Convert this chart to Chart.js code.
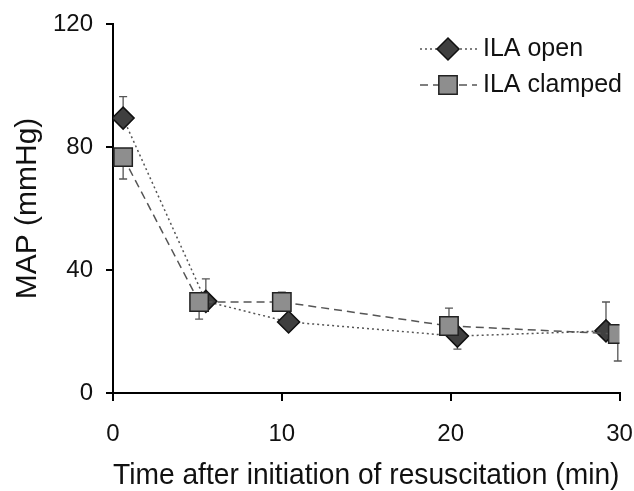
<!DOCTYPE html>
<html>
<head>
<meta charset="utf-8">
<script src="https://cdn.jsdelivr.net/npm/chart.js@4"></script>
<style>
html,body{margin:0;padding:0;background:#fff;}
#wrap{width:634px;height:491px;position:relative;}
</style>
</head>
<body>
<div id="wrap"><canvas id="c" width="634" height="491"></canvas></div>
<script>
// ---- data ----
const seriesNames = ["ILA open", "ILA clamped"];
const openX = [0.6, 5.5, 10.4, 20.4, 29.2];
const openY = [89.4, 29.8, 23.1, 18.5, 20.2];
const openErrUp = [7.0, 7.3, 0, 0, 9.4];
const openErrDown = [0, 0, 0, 4.2, 0];
const clampedX = [0.6, 5.1, 10.0, 19.9, 29.9];
const clampedY = [76.7, 29.6, 29.6, 21.8, 19.2];
const clampedErrUp = [0, 0, 3.2, 5.8, 0];
const clampedErrDown = [7.1, 5.6, 0, 0, 8.8];
const xTicks = [0, 10, 20, 30];
const yTicks = [0, 40, 80, 120];
const xTitle = "Time after initiation of resuscitation (min)";
const yTitle = "MAP (mmHg)";

const FONT = "'Liberation Sans', Arial, Helvetica, sans-serif";
const toPts = (xs, ys) => xs.map((x, i) => ({x: x, y: ys[i]}));

const errorBars = {
  id: 'errorBars',
  beforeDatasetsDraw(chart) {
    const ctx = chart.ctx;
    const xs = chart.scales.x, ys = chart.scales.y;
    const sets = [[openX, openY, openErrUp, openErrDown], [clampedX, clampedY, clampedErrUp, clampedErrDown]];
    ctx.save();
    ctx.strokeStyle = '#555';
    ctx.lineWidth = 1.3;
    sets.forEach(([X, Y, U, D]) => {
      X.forEach((x, i) => {
        const px = xs.getPixelForValue(x);
        const py = ys.getPixelForValue(Y[i]);
        [[U[i], 1], [D[i], -1]].forEach(([e, s]) => {
          if (!e) return;
          const pe = ys.getPixelForValue(Y[i] + s * e);
          ctx.beginPath();
          ctx.moveTo(px, py); ctx.lineTo(px, pe);
          ctx.moveTo(px - 4, pe); ctx.lineTo(px + 4, pe);
          ctx.stroke();
        });
      });
    });
    ctx.restore();
  }
};

const customLegend = {
  id: 'customLegend',
  afterDraw(chart) {
    const ctx = chart.ctx;
    const ds = chart.data.datasets;
    const rows = [{i: 0, y: 49}, {i: 1, y: 85}];
    ctx.save();
    rows.forEach(r => {
      const d = ds[r.i];
      ctx.strokeStyle = d.borderColor;
      ctx.lineWidth = d.borderWidth;
      ctx.setLineDash(d.borderDash);
      ctx.beginPath();
      ctx.moveTo(420, r.y); ctx.lineTo(477, r.y);
      ctx.stroke();
      ctx.setLineDash([]);
      ctx.fillStyle = d.pointBackgroundColor;
      ctx.strokeStyle = d.pointBorderColor;
      ctx.lineWidth = d.pointBorderWidth;
      ctx.beginPath();
      if (d.pointStyle === 'rectRot') {
        const rr = d.pointRadius;
        ctx.moveTo(448 - rr, r.y); ctx.lineTo(448, r.y - rr); ctx.lineTo(448 + rr, r.y); ctx.lineTo(448, r.y + rr);
      } else {
        const s = d.pointRadius * Math.SQRT1_2;
        ctx.rect(448 - s, r.y - s, 2 * s, 2 * s);
      }
      ctx.closePath(); ctx.fill(); ctx.stroke();
      ctx.fillStyle = '#111';
      ctx.font = '25px ' + FONT;
      ctx.textBaseline = 'middle';
      ctx.textAlign = 'left';
      ctx.fillText(seriesNames[r.i], 483, r.y);
    });
    ctx.restore();
  }
};

new Chart(document.getElementById('c'), {
  type: 'scatter',
  data: {
    datasets: [
      {
        label: seriesNames[0],
        data: toPts(openX, openY),
        showLine: true,
        borderColor: '#555',
        borderWidth: 1.5,
        borderDash: [2, 3],
        pointStyle: 'rectRot',
        pointRadius: 11,
        pointHoverRadius: 11,
        pointBackgroundColor: '#3f3f3f',
        pointBorderColor: '#111',
        pointBorderWidth: 1.5,
        order: 1
      },
      {
        label: seriesNames[1],
        data: toPts(clampedX, clampedY),
        showLine: true,
        borderColor: '#555',
        borderWidth: 1.5,
        borderDash: [8, 5],
        pointStyle: 'rect',
        pointRadius: 13,
        pointHoverRadius: 13,
        pointBackgroundColor: '#8e8e8e',
        pointBorderColor: '#222',
        pointBorderWidth: 1.5,
        order: 0
      }
    ]
  },
  options: {
    responsive: false,
    animation: false,
    events: [],
    layout: {padding: {top: 24, right: 14, left: 0, bottom: 0}},
    plugins: {legend: {display: false}, tooltip: {enabled: false}},
    scales: {
      x: {
        type: 'linear', min: 0, max: 30,
        afterFit(s) { s.height = 98; s.paddingLeft = 0; s.paddingRight = 0; },
        afterBuildTicks(s) { s.ticks = xTicks.map(v => ({value: v})); },
        border: {display: true, color: '#000', width: 2},
        grid: {display: true, drawOnChartArea: false, drawTicks: true, tickLength: 8, color: '#000', lineWidth: 2},
        ticks: {color: '#111', font: {family: FONT, size: 24}, padding: 19, maxRotation: 0},
        title: {display: true, text: xTitle, color: '#111', font: {family: FONT, size: 29}, padding: {top: 0, bottom: -2}}
      },
      y: {
        type: 'linear', min: 0, max: 120,
        afterFit(s) { s.width = 113; s.paddingTop = 0; s.paddingBottom = 0; },
        afterBuildTicks(s) { s.ticks = yTicks.map(v => ({value: v})); },
        border: {display: true, color: '#000', width: 2},
        grid: {display: true, drawOnChartArea: false, drawTicks: true, tickLength: 7, color: '#000', lineWidth: 2},
        ticks: {color: '#111', font: {family: FONT, size: 24}, padding: 13},
        title: {display: true, text: yTitle, color: '#111', font: {family: FONT, size: 30}, padding: {top: 10, bottom: 0}}
      }
    }
  },
  plugins: [errorBars, customLegend]
});
</script>
</body>
</html>
